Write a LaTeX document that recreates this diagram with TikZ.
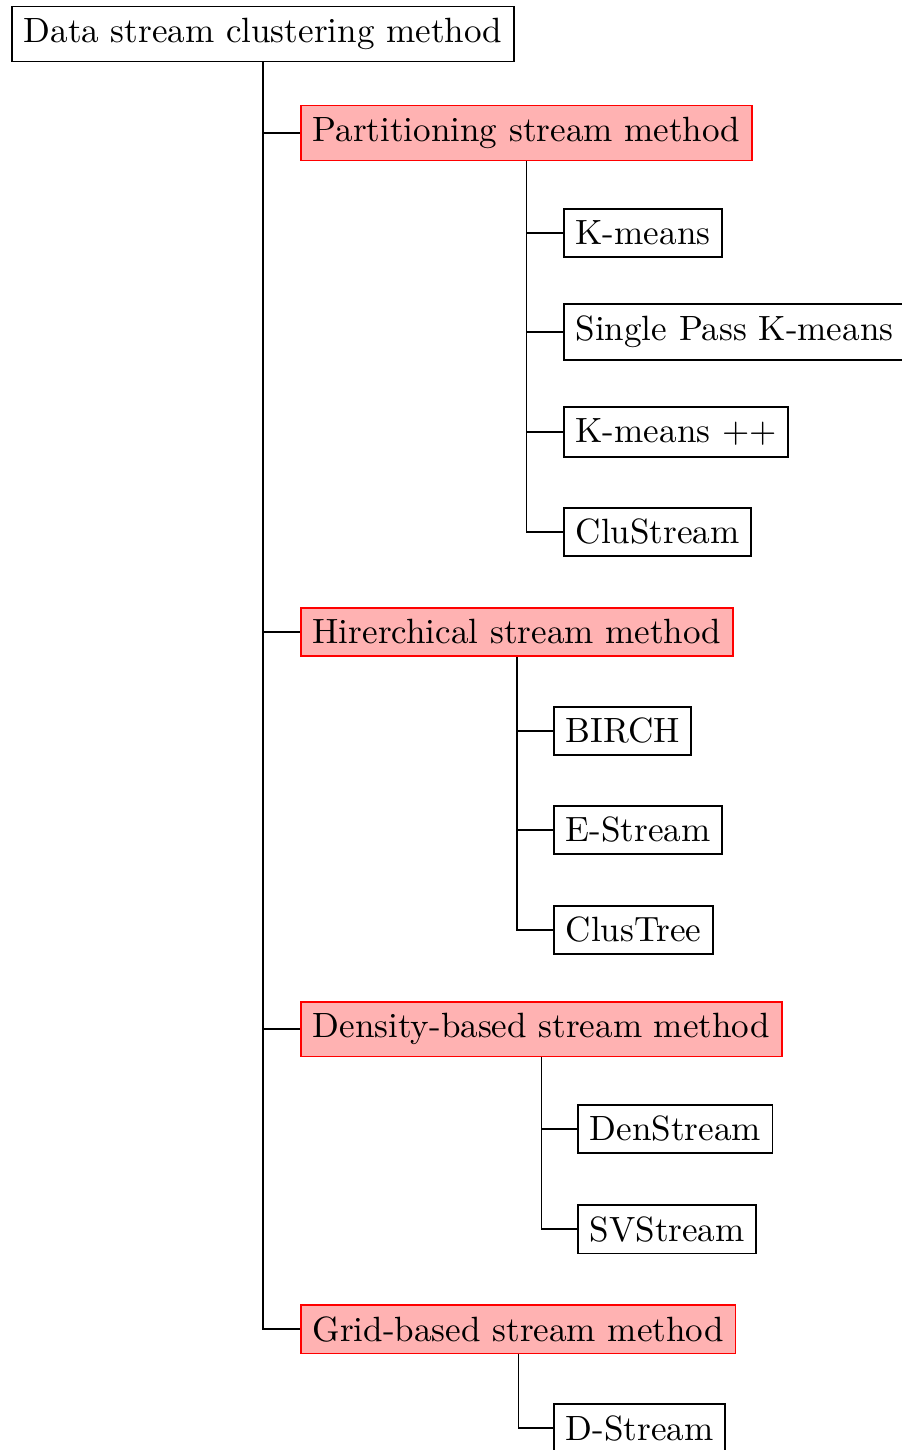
\documentclass[tikz,border=0pt]{standalone}
\begin{document}
\begin{tikzpicture}[x=0.285pt,y=-0.285pt,
  leaf/.style={draw=black,line width=0.55pt,anchor=west},
  cat/.style={draw=red,fill=red!30,line width=0.55pt,anchor=west},
  conn/.style={draw=black,line width=0.35pt}]
\useasboundingbox (0,0) rectangle (901,1450);
\node[leaf] (root) at (11,34) {Data stream clustering method};
\node[cat] (part) at (300,133) {Partitioning stream method};
\node[leaf] (km) at (563,233) {K-means};
\node[leaf] (spkm) at (563,332) {Single Pass K-means};
\node[leaf] (kmpp) at (563,432) {K-means ++};
\node[leaf] (clus) at (563,532) {CluStream};
\node[cat] (hier) at (300,632) {Hirerchical stream method};
\node[leaf] (birch) at (553,731) {BIRCH};
\node[leaf] (estr) at (553,830) {E-Stream};
\node[leaf] (clt) at (553,930) {ClusTree};
\node[cat] (dens) at (300,1029) {Density-based stream method};
\node[leaf] (den) at (577,1129) {DenStream};
\node[leaf] (svs) at (577,1229) {SVStream};
\node[cat] (grid) at (300,1329) {Grid-based stream method};
\node[leaf] (dst) at (553,1428) {D-Stream};
\foreach \p/\c in {root/part,root/hier,root/dens,root/grid,
  part/km,part/spkm,part/kmpp,part/clus,
  hier/birch,hier/estr,hier/clt,
  dens/den,dens/svs,grid/dst}
  \draw[conn] (\p.south) |- (\c.west);
\end{tikzpicture}
\end{document}
